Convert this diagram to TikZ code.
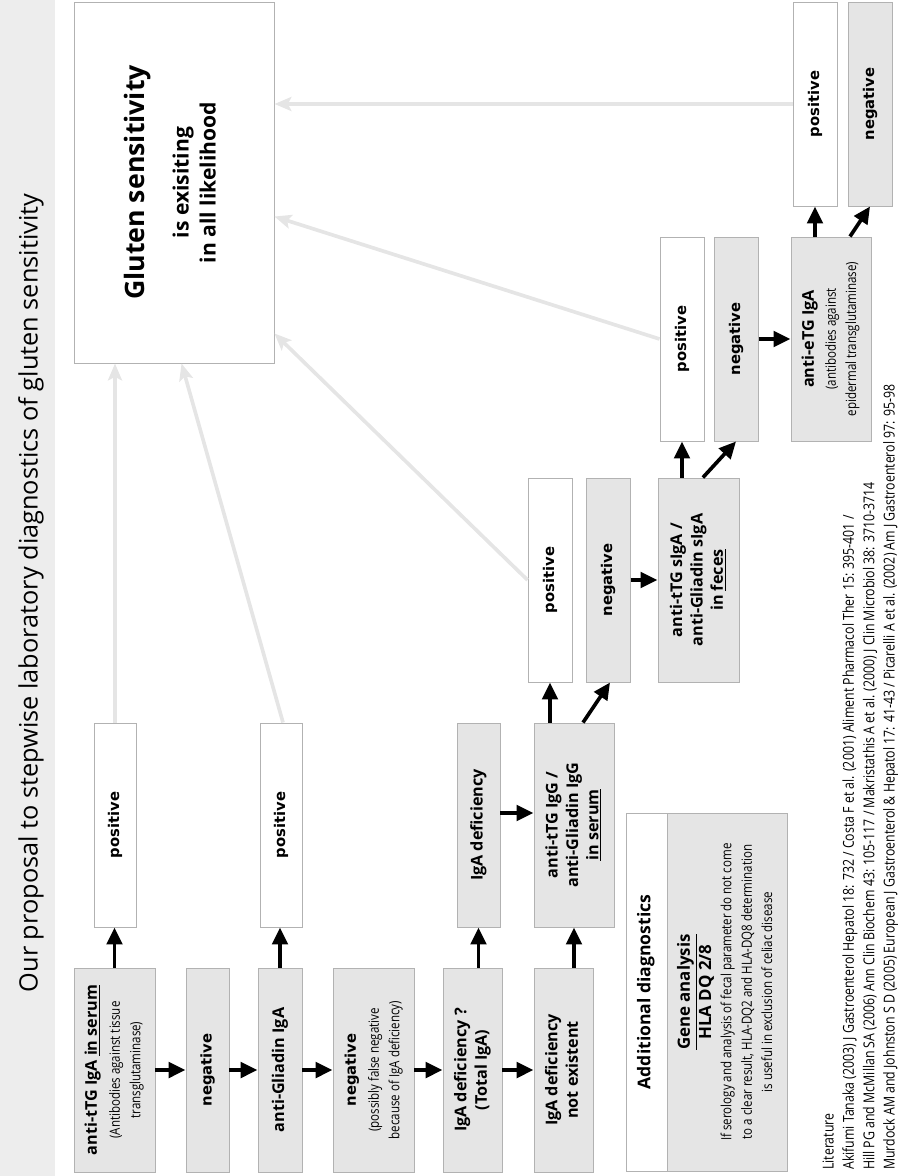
\documentclass[tikz,border=0pt]{standalone}
\usepackage{graphicx}
\usepackage{fontspec}
\setmainfont{Open Sans}
\newfontfamily\djv{DejaVu Sans}
\newfontfamily\cond[FakeStretch=0.82]{Open Sans}
\usetikzlibrary{arrows.meta, calc}

% rotated, centred text block
\newcommand{\vtext}[1]{\rotatebox{90}{\begin{tabular}{@{}c@{}}#1\end{tabular}}}
\newcommand{\subtxt}{\cond\mdseries\fontsize{10}{14}\selectfont}
\def\px{0.025cm}

\tikzset{
  graybox/.style={draw=black!30, fill=black!10, line width=0.7pt, inner sep=0pt,
    font=\bfseries\fontsize{11.5}{14.5}\selectfont},
  whitebox/.style={graybox, fill=white},
  posneg/.style={font=\djv\bfseries\fontsize{10.5}{14.5}\selectfont},
  blackarrow/.style={line width=2.6pt, -{Triangle[length=12pt,width=11pt]}},
  lightarrow/.style={draw=black!10, line width=2.6pt, -{Stealth[length=12pt,width=10pt,inset=2.5pt]}},
}

\begin{document}
\begin{tikzpicture}[x=\px, y=-\px]

\useasboundingbox (0,0) rectangle (897,1176);

% --- Title strip ---
\fill[black!7] (0,0) rectangle (55,1176);
\node (title) at (31,593) {\rotatebox{90}{\fontsize{18}{22}\selectfont Our proposal to stepwise laboratory diagnostics of gluten sensitivity}};

% --- Result box ---
\node[whitebox, minimum width=200*\px, minimum height=361*\px, font=\bfseries\fontsize{15}{19.2}\selectfont] (likely) at (174,182.5)
  {\vtext{{\fontsize{19}{22}\selectfont Gluten sensitivity}\\[12pt] is exisiting\\ in all likelihood}};

% --- First row: IgA in serum ---
\node[graybox, minimum width=81*\px, minimum height=204*\px] (tg) at (114.5,1070)
  {\vtext{anti-tTG IgA \underline{in serum}\\[2pt] \subtxt (Antibodies against tissue\\ \subtxt transglutaminase)}};
\node[graybox, posneg, minimum width=43*\px, minimum height=204*\px] (neg1) at (207.5,1070) {\vtext{negative}};
\node[graybox, minimum width=44*\px, minimum height=204*\px] (gli) at (280,1070) {\vtext{anti-Gliadin IgA}};
\node[graybox, minimum width=81*\px, minimum height=204*\px] (neg2) at (373.5,1070)
  {\vtext{{\djv\fontsize{10.5}{14}\selectfont negative}\\[2pt] \subtxt (possibly false negative\\ \subtxt because of IgA deficiency)}};
\node[graybox, minimum width=59*\px, minimum height=204*\px] (tot) at (472.5,1070) {\vtext{IgA deficiency ?\\ (Total IgA)}};
\node[graybox, minimum width=59*\px, minimum height=204*\px] (notex) at (563.5,1070) {\vtext{IgA deficiency\\ not existent}};

% --- Second row ---
\node[whitebox, posneg, minimum width=42*\px, minimum height=204*\px] (pos1) at (115,825) {\vtext{positive}};
\node[whitebox, posneg, minimum width=42*\px, minimum height=204*\px] (pos2) at (281,825) {\vtext{positive}};
\node[graybox, minimum width=43*\px, minimum height=204*\px] (def) at (478.5,825) {\vtext{IgA deficiency}};
\node[graybox, minimum width=80*\px, minimum height=204*\px] (igg) at (574,825)
  {\vtext{anti-tTG IgG /\\ anti-Gliadin IgG\\ \underline{in serum}}};

% --- Third row: feces ---
\node[whitebox, posneg, minimum width=44*\px, minimum height=204*\px] (pos3) at (550,580) {\vtext{positive}};
\node[graybox, posneg, minimum width=44*\px, minimum height=204*\px] (neg3) at (608,580) {\vtext{negative}};
\node[graybox, minimum width=81*\px, minimum height=204*\px] (fec) at (698.5,580)
  {\vtext{anti-tTG sIgA /\\ anti-Gliadin sIgA\\ in \underline{feces}}};

% --- Fourth row: skin ---
\node[whitebox, posneg, minimum width=44*\px, minimum height=204*\px] (pos4) at (682,339) {\vtext{positive}};
\node[graybox, posneg, minimum width=44*\px, minimum height=204*\px] (neg4) at (736,339) {\vtext{negative}};
\node[graybox, minimum width=80*\px, minimum height=204*\px] (etg) at (831,339)
  {\vtext{anti-eTG IgA\\[1pt] \subtxt (antibodies against\\ \subtxt epidermal transglutaminase)}};

% --- Fifth row ---
\node[whitebox, posneg, minimum width=44*\px, minimum height=204*\px] (pos5) at (815,104) {\vtext{positive}};
\node[graybox, posneg, minimum width=44*\px, minimum height=204*\px] (neg5) at (870,104) {\vtext{negative}};

% --- Additional diagnostics ---
\node[whitebox, minimum width=41*\px, minimum height=358*\px, font=\bfseries\fontsize{12.5}{14}\selectfont] (extra) at (646.5,992) {\vtext{Additional diagnostics}};
\node[graybox, minimum width=120*\px, minimum height=358*\px, font=\bfseries\fontsize{12}{14.5}\selectfont] (gene) at (727,992)
  {\vtext{\underline{Gene analysis}\\ HLA DQ 2/8\\ \subtxt If serology and analysis of fecal parameter do not come\\
   \subtxt to a clear result, HLA-DQ2 and HLA-DQ8 determination\\ \subtxt is useful in exclusion of celiac disease}};

% --- Literature ---
\node[anchor=south, inner sep=0pt, font=\cond\fontsize{10.7}{14.5}\selectfont] (lit) at (860,1170)
  {\rotatebox{90}{\begin{tabular}{@{}l@{}}
  Literature\\
  Akifumi Tanaka (2003) J Gastroenterol Hepatol 18: 732 /  Costa F et al. (2001) Aliment Pharmacol Ther 15: 395-401 /\\
  Hill PG and McMillan SA (2006) Ann Clin Biochem 43: 105-117 / Makristathis A et al. (2000) J Clin Microbiol 38: 3710-3714\\
  Murdock AM and Johnston S D (2005) European J Gastroenterol \& Hepatol 17: 41-43 / Picarelli A et al. (2002) Am J Gastroenterol 97: 95-98
  \end{tabular}}};

% --- Black arrows ---
\foreach \a/\b in {tg/neg1, neg1/gli, gli/neg2, neg2/tot, tot/notex, neg3/fec, neg4/etg}
  \draw[blackarrow] (\a.east) -- (\b.west);
\draw[blackarrow] (tg.north) -- (tg.north |- pos1.south);
\draw[blackarrow] (gli.north) -- (gli.north |- pos2.south);
\draw[blackarrow] (def.south |- tot.north) -- (def.south);
\draw[blackarrow] (igg.south |- notex.north) -- (igg.south);
\draw[blackarrow] ([yshift=0.3cm]def.east) -- ([yshift=0.3cm]def.east -| igg.west);
\draw[blackarrow] (pos3.south |- igg.north) -- (pos3.south);
\draw[blackarrow] ([xshift=0.225cm]igg.north) -- ([xshift=0.05cm]neg3.south);
\draw[blackarrow] (pos4.south |- fec.north) -- (pos4.south);
\draw[blackarrow] ([xshift=0.11cm]fec.north) -- (neg4.south);
\draw[blackarrow] (pos5.south |- etg.north) -- (pos5.south);
\draw[blackarrow] ([xshift=0.475cm]etg.north) -- (neg5.south);

% --- Light arrows to result ---
\draw[lightarrow] (pos1.north) -- (pos1.north |- likely.south);
\draw[lightarrow] ([xshift=0.05cm]pos2.north) -- ([xshift=2.7cm]likely.south west);
\draw[lightarrow] (pos3.west) -- ([yshift=0.75cm]likely.south east);
\draw[lightarrow] (pos4.west) -- ([yshift=-0.85cm]likely.east);
\draw[lightarrow] (pos5.west) -- (pos5.west -| likely.east);

\end{tikzpicture}
\end{document}
